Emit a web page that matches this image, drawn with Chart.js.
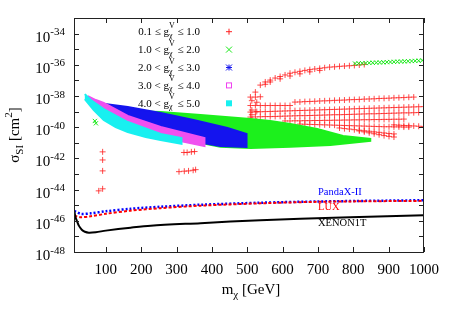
<!DOCTYPE html>
<html>
<head>
<meta charset="utf-8">
<script src="https://cdn.jsdelivr.net/npm/chart.js@4.4.1/dist/chart.umd.min.js"></script>
<style>
  html, body { margin: 0; padding: 0; background: #fff; }
</style>
</head>
<body>
<canvas id="chart" width="452" height="316"></canvas>
<script>
// axes (y values are log10 of sigma in cm^2)
const xTicks = [100, 200, 300, 400, 500, 600, 700, 800, 900, 1000];
const yTicks = [-48, -47, -46, -45, -44, -43, -42, -41, -40, -39, -38, -37, -36, -35, -34, -33];
const yLabelTicks = [-48, -46, -44, -42, -40, -38, -36, -34];

// legend ranges of g_chi^V
const gLow = ['0.1', '1.0', '2.0', '3.0', '4.0'];
const gOp = ['≤', '<', '<', '<', '<'];
const gHigh = ['1.0', '2.0', '3.0', '4.0', '5.0'];

// experimental limits
const xenonX = [11, 14, 18, 23.7, 32, 40.6, 52, 71.7, 100, 170, 227, 368, 537, 650, 791, 1000];
const xenonY = [-45.4, -45.75, -46.0, -46.31, -46.57, -46.70, -46.76, -46.73, -46.63, -46.44, -46.31, -46.15, -45.96, -45.87, -45.77, -45.64];
const limitX = [11, 29, 57.6, 100, 170, 255, 368, 537, 706, 1000];
const pandaY = [-45.36, -45.55, -45.52, -45.39, -45.23, -45.10, -44.97, -44.84, -44.76, -44.68];
const luxY = [-45.67, -45.77, -45.71, -45.55, -45.35, -45.19, -45.03, -44.88, -44.78, -44.72];

// dense bands (outline: upper edge left->right, then lower edge right->left)
const cyanX = [40.6, 57.6, 94, 162, 255, 314, 314, 255, 213, 162, 128, 94, 66, 40.6];
const cyanY = [-37.88, -38.26, -38.84, -39.67, -40.43, -40.69, -41.07, -40.82, -40.63, -40.31, -39.99, -39.54, -38.90, -38.20];
const magentaX = [49, 71.7, 94, 162, 255, 311, 379, 379, 311, 255, 162, 94, 71.7, 49];
const magentaY = [-38.01, -38.26, -38.45, -39.28, -39.99, -40.31, -40.69, -41.20, -40.88, -40.63, -39.86, -39.03, -38.65, -38.33];
const blueX = [97, 162, 255, 348, 444, 498, 498, 424, 376, 311, 255, 162, 97];
const blueY = [-38.52, -38.71, -39.09, -39.54, -40.05, -40.43, -41.26, -41.20, -41.01, -40.63, -40.24, -39.54, -38.96];
const greenX = [156, 255, 368, 509, 565, 622, 698, 771, 848, 848, 735, 622, 509, 424, 255, 156];
const greenY = [-38.96, -39.03, -39.22, -39.48, -39.60, -39.80, -40.11, -40.56, -40.75, -40.88, -41.14, -41.26, -41.33, -41.26, -40.50, -39.35];

// green single points
const greenTopX = [805, 815, 825, 835, 845, 855, 865, 875, 885, 895, 905, 915, 925, 935, 945, 955, 965, 975, 985, 995];
const greenTopY = [-35.92, -35.91, -35.9, -35.89, -35.88, -35.87, -35.86, -35.85, -35.84, -35.83, -35.82, -35.81, -35.8, -35.79, -35.78, -35.77, -35.76, -35.75, -35.74, -35.72];
const greenDotX = [69, 72];
const greenDotY = [-39.6, -39.75];

// red single points
const redLeftX = [91, 91, 91, 80, 91];
const redLeftY = [-41.58, -42.10, -42.80, -44.08, -43.95];
const redMidX = [321, 330, 342, 351, 307, 322, 334, 347, 354];
const redMidY = [-41.62, -41.62, -41.58, -41.56, -42.85, -42.82, -42.8, -42.76, -42.72];
const redColX = [513, 513, 513, 513, 513, 527, 527, 527];
const redColY = [-38.3, -38.9, -39.2, -39.5, -39.8, -38.4, -39.0, -39.6];

// red rows at high mass, shared x grid
const redX = [509, 523, 537, 551, 565, 579, 593, 607, 621, 635, 649, 663, 677, 691, 705, 719, 733, 747,
  761, 775, 789, 803, 817, 831, 845, 859, 873, 887, 901, 915, 929, 943, 957, 971, 985, 999];
const redRowA = [null, -37.75, -37.3, -37.1, -36.98, -36.85, -36.75, -36.65, -36.54, -36.48, -36.42, -36.36, -36.31, -36.27, -36.23, -36.19, -36.15, -36.13,
  -36.1, -36.08, -36.06, -36.04, -36.01, -35.98, null, null, null, null, null, null, null, null, null, null, null, null];
const redRowA2 = [null, null, null, -37.25, -37.1, null, -36.9, null, -36.72, null, -36.58, null, -36.45, null, -36.36, null, null, null,
  null, null, null, null, null, null, null, null, null, null, null, null, null, null, null, null, null, null];
const redRowB = [-38.07, -38.07, -38.05, null, null, null, null, null, null, null, null, null, null, null, null, null, null, null,
  null, null, null, null, null, null, null, null, null, null, null, null, null, null, null, null, null, null];
const redRowC = [-38.61, -38.61, -38.61, -38.61, -38.61, -38.61, -38.61, -38.61, -38.61, -38.39, -38.38, -38.36, -38.35, -38.34, -38.32, -38.31, -38.30, -38.28,
  -38.27, -38.26, -38.24, -38.23, -38.22, -38.20, -38.19, -38.18, -38.16, -38.15, -38.14, -38.12, -38.11, -38.10, -38.08, -38.07, null, null];
const redRowD = [-39.03, -39.02, -39.01, -39.00, -38.99, -38.98, -38.97, -38.96, -38.95, -38.94, -38.93, -38.92, -38.91, -38.90, -38.89, -38.88, -38.87, -38.86,
  -38.85, -38.84, -38.83, -38.82, -38.81, -38.80, -38.79, -38.78, -38.77, -38.76, -38.75, -38.74, -38.73, -38.72, -38.71, -38.70, -38.69, -38.68];
const redRowE = [-39.35, -39.34, -39.33, -39.32, -39.32, -39.31, -39.30, -39.29, -39.28, -39.27, -39.26, -39.26, -39.25, -39.24, -39.23, -39.22, -39.21, -39.20,
  -39.20, -39.19, -39.18, -39.17, -39.16, -39.15, -39.14, -39.14, -39.13, -39.12, -39.11, -39.10, -39.09, -39.08, -39.08, -39.07, -39.06, null];
const redRowF = [null, null, null, null, null, null, null, -39.6, -39.6, -39.59, -39.59, -39.58, -39.58, -39.57, -39.57, -39.56, -39.56, -39.55,
  -39.55, -39.54, -39.54, -39.53, -39.53, -39.52, -39.52, -39.51, -39.51, -39.50, -39.50, -39.49, -39.49, -39.48, null, null, null, null];
const redRowG = [null, null, null, null, null, null, null, null, null, null, -39.8, -39.81, -39.82, -39.83, -39.84, -39.85, -39.86, -39.87,
  -39.88, -39.89, -39.90, -39.91, -39.92, -39.93, -39.94, -39.95, -39.96, -39.97, -39.97, -39.98, -39.98, -39.99, -39.99, null, null, null];
const redRowH = [null, null, null, null, null, null, null, null, null, null, null, null, null, null, null, null, null, null,
  -40.05, -40.09, -40.12, -40.16, -40.19, -40.23, -40.26, -40.30, -40.33, -40.37, -40.40, -40.43, null, null, null, null, null, null];
const redRowI = [null, null, null, null, null, null, null, null, null, null, null, null, null, null, null, null, null, null,
  null, null, null, null, -40.24, -40.30, -40.36, -40.42, -40.48, -40.54, -40.59, -40.63, null, null, null, null, null, null];
const redRowJ = [null, null, null, null, null, null, null, null, null, null, null, null, null, null, null, null, null, null,
  null, null, null, null, null, null, null, null, null, null, null, -39.85, -39.87, -39.89, -39.9, -39.92, -39.94, -39.95];

const FONT = "'Liberation Serif', 'DejaVu Serif', serif";

function pts(xs, ys) {
  const out = [];
  xs.forEach((v, i) => { if (ys[i] !== null) out.push({ x: v, y: ys[i] }); });
  return out;
}

const redRows = [redRowA, redRowA2, redRowB, redRowC, redRowD, redRowE, redRowF, redRowG, redRowH, redRowI, redRowJ];
let redPoints = pts(redLeftX, redLeftY).concat(pts(redMidX, redMidY), pts(redColX, redColY));
redRows.forEach(r => { redPoints = redPoints.concat(pts(redX, r)); });

function band(xs, ys, color, order) {
  return {
    data: pts(xs, ys), showLine: true, fill: 'shape', backgroundColor: color,
    borderColor: color, borderWidth: 2, pointRadius: 0, tension: 0, order: order
  };
}
function marks(data, style, color, order) {
  return {
    data: data, showLine: false, pointStyle: style, pointRadius: 3, pointBorderWidth: 1,
    borderColor: color, backgroundColor: color, order: order
  };
}
function limit(xs, ys, color, dash, width) {
  return {
    data: pts(xs, ys), showLine: true, borderColor: color, borderWidth: width,
    borderDash: dash, pointRadius: 0, tension: 0.3, fill: false, order: 0
  };
}

const datasets = [
  limit(xenonX, xenonY, '#000', [], 2),
  limit(limitX, luxY, '#ff0000', [3, 2], 2),
  limit(limitX, pandaY, '#0000ff', [2, 2], 2.5),
  band(cyanX, cyanY, '#18f0f0', 2),
  band(magentaX, magentaY, '#f050f0', 3),
  band(blueX, blueY, '#1414ee', 4),
  band(greenX, greenY, '#1cf01c', 5),
  marks(pts(greenTopX, greenTopY).concat(pts(greenDotX, greenDotY)), 'crossRot', '#18e818', 5),
  marks(redPoints, 'cross', 'rgba(255,30,30,0.8)', 6)
];

function sizeFont(px) { return px + 'px ' + FONT; }

// width of text followed by a stacked sub/superscript
function scriptWidth(ctx, base, sup, sub, size, small) {
  ctx.font = sizeFont(size);
  const wb = ctx.measureText(base).width;
  ctx.font = sizeFont(small);
  return wb + Math.max(sup ? ctx.measureText(sup).width : 0, sub ? ctx.measureText(sub).width : 0);
}

const decor = {
  id: 'decor',
  afterDraw(chart) {
    const { ctx, chartArea: a, scales: { x, y } } = chart;
    ctx.save();
    ctx.strokeStyle = '#222';
    ctx.lineWidth = 1;
    ctx.strokeRect(a.left + 0.5, a.top + 0.5, a.right - a.left - 1, a.bottom - a.top);
    ctx.beginPath();
    xTicks.forEach(v => {
      const px = Math.round(x.getPixelForValue(v)) + 0.5;
      ctx.moveTo(px, a.bottom); ctx.lineTo(px, a.bottom - 5);
      ctx.moveTo(px, a.top); ctx.lineTo(px, a.top + 5);
    });
    yTicks.forEach(v => {
      const py = Math.round(y.getPixelForValue(v)) + 0.5;
      ctx.moveTo(a.left, py); ctx.lineTo(a.left + 5, py);
      ctx.moveTo(a.right, py); ctx.lineTo(a.right - 5, py);
    });
    ctx.stroke();

    // y tick labels 10^n
    ctx.fillStyle = '#000';
    ctx.textBaseline = 'alphabetic';
    ctx.textAlign = 'left';
    yLabelTicks.forEach(v => {
      const py = y.getPixelForValue(v);
      const exp = String(v);
      ctx.font = sizeFont(11);
      const we = ctx.measureText(exp).width;
      ctx.font = sizeFont(15);
      const wb = ctx.measureText('10').width;
      const x0 = a.left - 9 - we - wb;
      ctx.fillText('10', x0, py + 8);
      ctx.font = sizeFont(11);
      ctx.fillText(exp, x0 + wb, py + 1.5);
    });

    // axis titles
    const xt = 'm', xr = ' [GeV]';
    ctx.font = sizeFont(15);
    const wm = ctx.measureText(xt).width;
    const wr = ctx.measureText(xr).width;
    ctx.font = sizeFont(11);
    const wchi = ctx.measureText('χ').width;
    let tx = (a.left + a.right) / 2 - (wm + wchi + wr) / 2 + 2;
    ctx.font = sizeFont(15);
    ctx.fillText(xt, tx, 294);
    ctx.font = sizeFont(11);
    ctx.fillText('χ', tx + wm, 298);
    ctx.font = sizeFont(15);
    ctx.fillText(xr, tx + wm + wchi, 294);

    ctx.save();
    ctx.translate(19, 135);
    ctx.rotate(-Math.PI / 2);
    ctx.font = sizeFont(15);
    const ws = ctx.measureText('σ').width;
    const wc = ctx.measureText(' [cm').width;
    const wbk = ctx.measureText(']').width;
    ctx.font = sizeFont(11);
    const wsi = ctx.measureText('SI').width;
    const w2 = ctx.measureText('2').width;
    let t = -(ws + wsi + wc + w2 + wbk) / 2;
    ctx.font = sizeFont(15); ctx.fillText('σ', t, 0); t += ws;
    ctx.font = sizeFont(11); ctx.fillText('SI', t, 4); t += wsi;
    ctx.font = sizeFont(15); ctx.fillText(' [cm', t, 0); t += wc;
    ctx.font = sizeFont(11); ctx.fillText('2', t, -7); t += w2;
    ctx.font = sizeFont(15); ctx.fillText(']', t, 0);
    ctx.restore();

    // legend
    const symColors = ['#ff2020', '#18e818', '#1414ee', '#f040f0', '#18f0f0'];
    gLow.forEach((lo, i) => {
      const ry = 31.7 + i * 17.9;
      const left = lo + ' ' + gOp[i] + ' g';
      const right = ' ≤ ' + gHigh[i];
      const wl = scriptWidth(ctx, left, 'V', 'χ', 11, 8);
      ctx.font = sizeFont(11);
      const wrt = ctx.measureText(right).width;
      let lx = 200 - wl - wrt;
      ctx.fillStyle = '#000';
      ctx.font = sizeFont(11);
      ctx.fillText(left, lx, ry + 3.5);
      const wleft = ctx.measureText(left).width;
      ctx.font = sizeFont(8);
      ctx.fillText('V', lx + wleft, ry - 4);
      ctx.fillText('χ', lx + wleft, ry + 6);
      ctx.font = sizeFont(11);
      ctx.fillText(right, lx + wl, ry + 3.5);

      const sx = 229, c = symColors[i];
      ctx.strokeStyle = c; ctx.fillStyle = c; ctx.lineWidth = 1;
      ctx.beginPath();
      if (i === 0 || i === 2) {
        ctx.moveTo(sx - 3, ry); ctx.lineTo(sx + 3, ry);
        ctx.moveTo(sx, ry - 3); ctx.lineTo(sx, ry + 3);
      }
      if (i === 1 || i === 2) {
        ctx.moveTo(sx - 3, ry - 3); ctx.lineTo(sx + 3, ry + 3);
        ctx.moveTo(sx - 3, ry + 3); ctx.lineTo(sx + 3, ry - 3);
      }
      ctx.stroke();
      if (i === 3) ctx.strokeRect(sx - 2.5, ry - 2.5, 5, 5);
      if (i === 4) ctx.fillRect(sx - 3, ry - 3, 6, 6);
    });

    // limit labels
    ctx.font = sizeFont(10.5);
    ctx.textBaseline = 'middle';
    ctx.fillStyle = '#0000ff'; ctx.fillText('PandaX-II', 318, 192);
    ctx.fillStyle = '#ff0000'; ctx.fillText('LUX', 318, 207);
    ctx.fillStyle = '#000'; ctx.fillText('XENON1T', 318, 223.5);
    ctx.restore();
  }
};

new Chart(document.getElementById('chart'), {
  type: 'scatter',
  data: { datasets: datasets },
  options: {
    responsive: false,
    animation: false,
    layout: { padding: { top: 18, right: 28, left: 0, bottom: 0 } },
    plugins: { legend: { display: false }, tooltip: { enabled: false } },
    scales: {
      x: {
        type: 'linear', min: 10, max: 1000,
        afterBuildTicks: s => { s.ticks = xTicks.map(v => ({ value: v })); },
        afterFit: s => { s.height = 64; },
        grid: { display: false, drawTicks: false },
        border: { display: false },
        ticks: {
          font: { family: FONT, size: 15 }, color: '#000', padding: 9, maxRotation: 0, autoSkip: false,
          callback: v => String(v)
        }
      },
      y: {
        type: 'linear', min: -48, max: -33,
        afterBuildTicks: s => { s.ticks = yTicks.map(v => ({ value: v })); },
        afterFit: s => { s.width = 74; },
        grid: { display: false, drawTicks: false },
        border: { display: false },
        ticks: { display: false }
      }
    }
  },
  plugins: [decor]
});
</script>
</body>
</html>
